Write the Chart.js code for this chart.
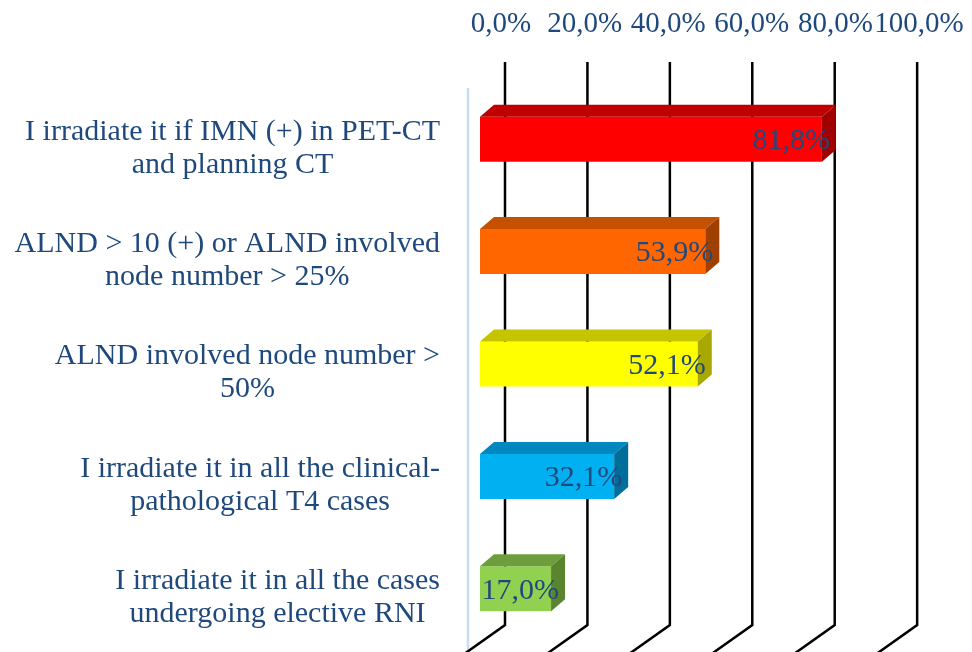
<!DOCTYPE html>
<html>
<head>
<meta charset="utf-8">
<script src="https://cdn.jsdelivr.net/npm/chart.js@4/dist/chart.umd.min.js"></script>
<style>
  html, body { margin: 0; padding: 0; background: #ffffff; }
  #wrap { width: 972px; height: 652px; }
</style>
</head>
<body>
<div id="wrap"><canvas id="c" width="972" height="652"></canvas></div>
<script>
// ---- data ----
const categories = [
  ["I irradiate it if IMN (+) in PET-CT", "and planning CT"],
  ["ALND > 10 (+) or ALND involved", "node number > 25%"],
  ["ALND involved node number >", "50%"],
  ["I irradiate it in all the clinical-", "pathological T4 cases"],
  ["I irradiate it in all the cases", "undergoing elective RNI"]
];
const values = [81.8, 53.9, 52.1, 32.1, 17.0];
const valueLabels = ["81,8%", "53,9%", "52,1%", "32,1%", "17,0%"];
const tickLabels = ["0,0%", "20,0%", "40,0%", "60,0%", "80,0%", "100,0%"];

// ---- styles ----
const frontColors = ["#FF0000", "#FF6600", "#FFFF00", "#00B0F0", "#92D050"];
const topColors   = ["#C00000", "#C55000", "#C4C400", "#0088BE", "#6E9E3C"];
const sideColors  = ["#A00000", "#A04000", "#A8A800", "#006E9A", "#5A8430"];
const textColor = "#1F497D";
const FONT = "'Liberation Serif', 'Times New Roman', serif";
const DX = 14, DY = 12;       // bar depth
const WALL = 25;              // back wall offset
const WALL_SCALE = 0.986;

const threeD = {
  id: 'threeD',
  beforeDatasetsDraw(chart) {
    const ctx = chart.ctx, a = chart.chartArea, xs = chart.scales.x;
    ctx.save();
    // left wall edge
    ctx.strokeStyle = '#C9DCF0';
    ctx.lineWidth = 2.5;
    ctx.beginPath();
    ctx.moveTo(a.left - 12, a.top + 5);
    ctx.lineTo(a.left - 12, chart.height);
    ctx.stroke();
    // back wall gridlines with floor slant
    ctx.strokeStyle = '#000000';
    ctx.lineWidth = 2.5;
    xs.ticks.forEach(t => {
      const px = xs.getPixelForValue(t.value);
      const bx = a.left + WALL + (px - a.left) * WALL_SCALE;
      const yb = a.bottom - 20;
      ctx.beginPath();
      ctx.moveTo(bx, a.top - 21);
      ctx.lineTo(bx, yb);
      ctx.lineTo(bx - 38 * 1.6, yb + 27 * 1.6);
      ctx.stroke();
    });
    ctx.restore();
  },
  afterDatasetsDraw(chart) {
    const ctx = chart.ctx;
    const meta = chart.getDatasetMeta(0);
    ctx.save();
    meta.data.forEach((bar, i) => {
      const p = bar.getProps(['x', 'y', 'base', 'height'], true);
      const top = p.y - p.height / 2, bot = p.y + p.height / 2;
      // top face
      ctx.fillStyle = topColors[i];
      ctx.beginPath();
      ctx.moveTo(p.base, top);
      ctx.lineTo(p.base + DX, top - DY);
      ctx.lineTo(p.x + DX, top - DY);
      ctx.lineTo(p.x, top);
      ctx.closePath();
      ctx.fill();
      // side face
      ctx.fillStyle = sideColors[i];
      ctx.beginPath();
      ctx.moveTo(p.x, top);
      ctx.lineTo(p.x + DX, top - DY);
      ctx.lineTo(p.x + DX, bot - DY);
      ctx.lineTo(p.x, bot);
      ctx.closePath();
      ctx.fill();
    });
    // value labels
    ctx.fillStyle = textColor;
    ctx.font = '30px ' + FONT;
    ctx.textAlign = 'right';
    ctx.textBaseline = 'middle';
    meta.data.forEach((bar, i) => {
      const p = bar.getProps(['x', 'y'], true);
      ctx.fillText(valueLabels[i], p.x + 8, p.y + 2);
    });
    ctx.restore();
  },
  afterDraw(chart) {
    const ctx = chart.ctx, ys = chart.scales.y;
    ctx.save();
    ctx.fillStyle = textColor;
    ctx.font = '30px ' + FONT;
    ctx.textAlign = 'center';
    ctx.textBaseline = 'middle';
    const lh = 33;
    const rightEdge = chart.chartArea.left - 40;
    categories.forEach((lines, i) => {
      const cy = ys.getPixelForTick(i) + 9;
      const bw = Math.max(...lines.map(l => ctx.measureText(l).width));
      const cx = rightEdge - bw / 2;
      lines.forEach((l, j) => {
        ctx.fillText(l, cx, cy + (j - (lines.length - 1) / 2) * lh);
      });
    });
    ctx.restore();
  }
};

new Chart(document.getElementById('c'), {
  type: 'bar',
  data: {
    labels: categories,
    datasets: [{
      data: values,
      backgroundColor: frontColors,
      borderWidth: 0,
      categoryPercentage: 1.0,
      barPercentage: 0.4
    }]
  },
  options: {
    indexAxis: 'y',
    responsive: false,
    animation: false,
    layout: { padding: { left: 0, right: 74, top: 0, bottom: 7 } },
    plugins: { legend: { display: false }, tooltip: { enabled: false } },
    scales: {
      x: {
        position: 'top',
        min: 0, max: 100,
        grid: { display: false },
        border: { display: false },
        afterFit(s) { s.height = 83; s.paddingLeft = 0; s.paddingRight = 0; },
        ticks: {
          stepSize: 20,
          autoSkip: false,
          padding: 33,
          labelOffset: 21,
          maxRotation: 0,
          minRotation: 0,
          color: textColor,
          font: { family: FONT, size: 29 },
          callback: (v, i) => tickLabels[i]
        }
      },
      y: {
        grid: { display: false },
        border: { display: false },
        ticks: { display: false },
        afterFit(s) { s.width = 480; }
      }
    }
  },
  plugins: [threeD]
});
</script>
</body>
</html>
